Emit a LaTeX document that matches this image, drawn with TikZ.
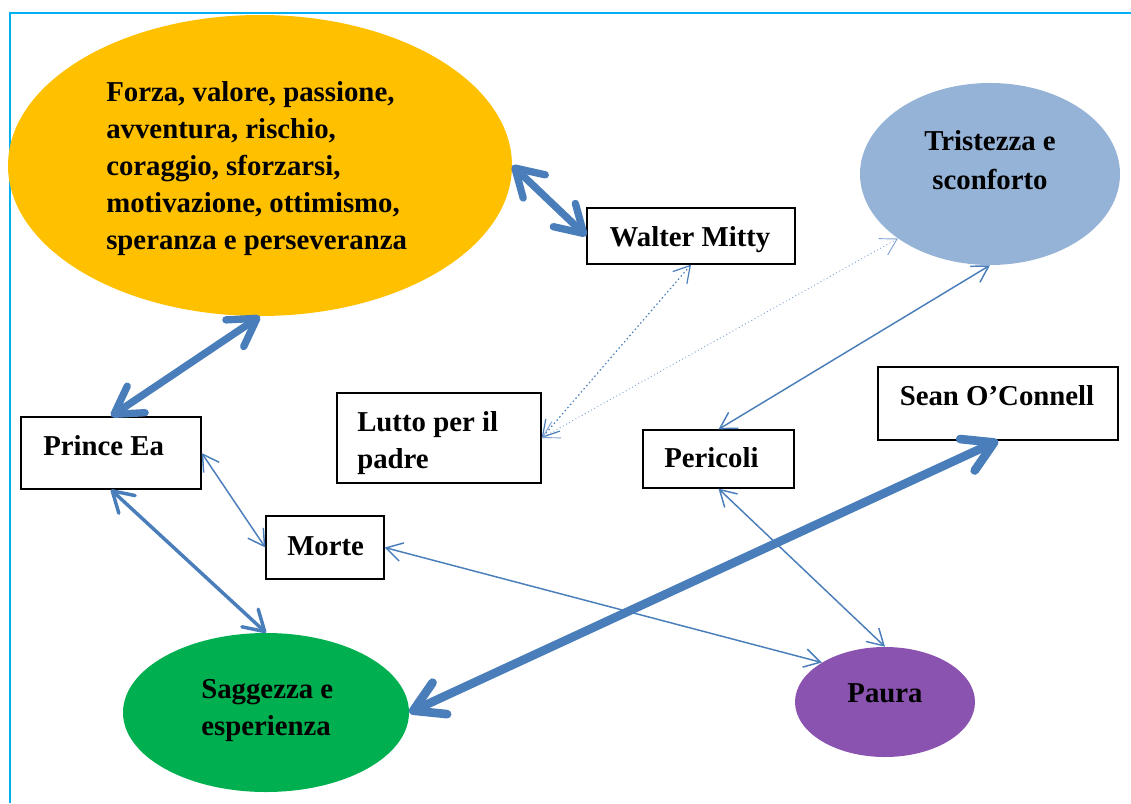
\documentclass[tikz,border=0pt]{standalone}
\usepackage{fontspec}
\setmainfont{Liberation Serif}
\usetikzlibrary{arrows.meta,shapes.geometric}
\definecolor{lb}{HTML}{4A7EBB}
\definecolor{lbl}{HTML}{7FA3D3}
\definecolor{bord}{HTML}{00B0F0}
\definecolor{yel}{HTML}{FFC000}
\definecolor{sky}{HTML}{95B3D7}
\definecolor{grn}{HTML}{00B050}
\definecolor{pur}{HTML}{8B53B0}
\tikzset{
  ell/.style={ellipse, draw=none, inner sep=0pt},
  box/.style={rectangle, draw=black, line width=1pt, fill=white, inner sep=0pt},
  txt/.style={inner sep=0pt, font=\fontsize{21.6}{27.75}\selectfont\bfseries},
  link/.style={draw=lb, line width=1.1pt, {Straight Barb[length=12pt,width=14pt]}-{Straight Barb[length=12pt,width=14pt]}},
  dlink/.style={link, dotted, line width=0.9pt},
  flink/.style={draw=lbl, dotted, line width=0.7pt, {Straight Barb[length=12pt,width=14pt]}-{Straight Barb[length=12pt,width=14pt]}},
  midlink/.style={draw=lb, line width=2.6pt, {Straight Barb[round,length=15pt,width=18pt]}-{Straight Barb[round,length=15pt,width=18pt]}},
  biglink/.style={draw=lb, line width=5.5pt, {Straight Barb[round,length=20pt,width=24pt]}-{Straight Barb[round,length=20pt,width=24pt]}},
  hugelink/.style={draw=lb, line width=6.5pt, {Straight Barb[round,length=22pt,width=26pt]}-{Straight Barb[round,length=22pt,width=26pt]}},
  frame/.style={draw=bord, line width=1.5pt}
}
\begin{document}
\begin{tikzpicture}[x=0.75pt,y=-0.75pt]
\useasboundingbox (0,0) rectangle (1131,803);
\coordinate (fa) at (10,803);
\coordinate (fb) at (10,13);
\coordinate (fc) at (1131,13);
\draw[frame] (fa) -- (fb) -- (fc);

% shapes
\node[ell, fill=yel, minimum width=378pt, minimum height=225.75pt] (yellow) at (260,165.5) {};
\node[ell, fill=sky, minimum width=195pt, minimum height=136.5pt] (trist) at (990,174) {};
\node[ell, fill=grn, minimum width=214.5pt, minimum height=119.25pt] (sagg) at (266,712.5) {};
\node[ell, fill=pur, minimum width=135pt, minimum height=82.5pt] (paura) at (885,702) {};

\node[box, minimum width=156pt, minimum height=42pt] (walter) at (691,236) {};
\node[box, minimum width=180pt, minimum height=54.75pt] (sean) at (998,403.5) {};
\node[box, minimum width=153pt, minimum height=67.5pt] (lutto) at (439,438) {};
\node[box, minimum width=113.25pt, minimum height=43.5pt] (peric) at (718.5,459) {};
\node[box, minimum width=135pt, minimum height=54pt] (prince) at (111,453) {};
\node[box, minimum width=88.5pt, minimum height=47.25pt] (morte) at (325,547.5) {};

% texts
\node[txt, anchor=base west] (yellowtxt) at (106,101) {\begin{tabular}[t]{@{}l@{}}Forza, valore, passione,\\ avventura, rischio,\\ coraggio, sforzarsi,\\ motivazione, ottimismo,\\ speranza e perseveranza\end{tabular}};
\node[txt, anchor=base] (tristtxt) at (990,150) {\begin{tabular}[t]{@{}c@{}}Tristezza e\\[2pt] sconforto\end{tabular}};
\node[txt, anchor=base west] (saggtxt) at (201,698) {\begin{tabular}[t]{@{}l@{}}Saggezza e\\ esperienza\end{tabular}};
\node[txt, anchor=base] (pauratxt) at (885,702) {Paura};
\node[txt, anchor=base] (waltertxt) at (690,246) {Walter Mitty};
\node[txt, anchor=base] (seantxt) at (997,405) {Sean O’Connell};
\node[txt, anchor=base west] (luttotxt) at (357,431) {\begin{tabular}[t]{@{}l@{}}Lutto per il\\ padre\end{tabular}};
\node[txt, anchor=base west] (perictxt) at (664,467) {Pericoli};
\node[txt, anchor=base west] (princetxt) at (43,455) {Prince Ea};
\node[txt, anchor=base west] (mortetxt) at (287,555) {Morte};

% connectors
\draw[biglink] (yellow.east) -- (walter.west);
\draw[biglink] (yellow.south) -- (prince.north);
\draw[hugelink] (sagg.east) -- (sean.south);
\draw[midlink] (prince.south) -- (sagg.north);
\draw[dlink] (walter.south) -- (lutto.east);
\draw[flink] (trist.215) -- (lutto.east);
\draw[link] (trist.south) -- (peric.north);
\draw[link] (prince.east) -- (morte.west);
\draw[link] (morte.east) -- (paura.148);
\draw[link] (peric.south) -- (paura.north);
\end{tikzpicture}
\end{document}
